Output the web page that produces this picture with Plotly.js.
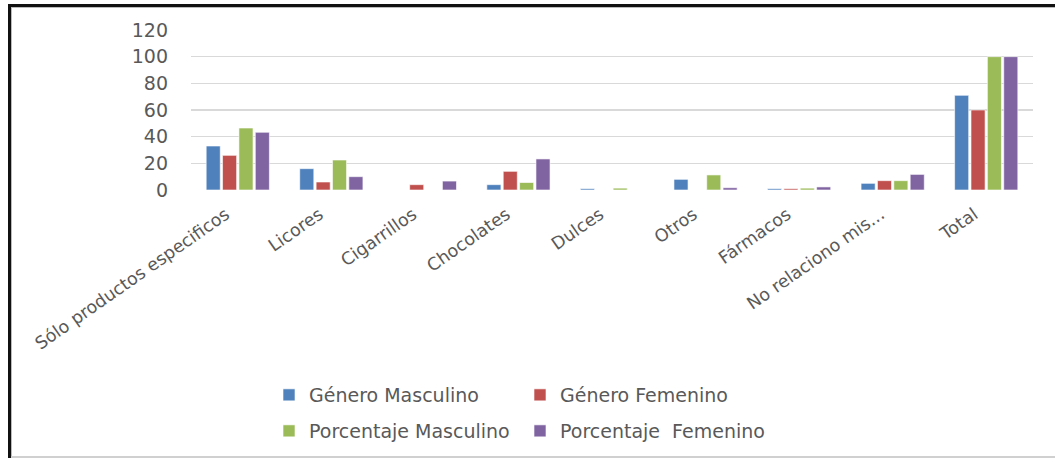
<!DOCTYPE html>
<html>
<head>
<meta charset="utf-8">
<script src="https://cdn.plot.ly/plotly-3.0.1.min.js"></script>
<style>
  html, body { margin: 0; padding: 0; background: #fff; }
  #wrap { position: relative; width: 1055px; height: 458px; overflow: hidden; }
  #chart { position: absolute; left: 0; top: 0; width: 1055px; height: 458px; }
  .frame { position: absolute; pointer-events: none; }
</style>
</head>
<body>
<div id="wrap">
  <div id="chart"></div>
  <div class="frame" style="left:8px; top:4px; width:1047px; height:3px; background:#111;"></div>
  <div class="frame" style="left:8px; top:4px; width:3px; height:454px; background:#111;"></div>
  <div class="frame" style="left:11px; top:7px; width:1044px; height:1px; background:#bbb;"></div>
  <div class="frame" style="left:11px; top:7px; width:1px; height:451px; background:#bbb;"></div>
  <div class="frame" style="left:11px; top:456px; width:1044px; height:2px; background:#d0d0d0;"></div>
</div>
<script>
const categories = ["Sólo productos especificos", "Licores", "Cigarrillos", "Chocolates", "Dulces", "Otros", "Fármacos", "No relaciono mis...", "Total"];
const generoMasculino     = [33, 16, 0, 4, 1, 8, 1, 5, 71];
const generoFemenino      = [26, 6, 4, 14, 0, 0, 1, 7, 60];
const porcentajeMasculino = [46.5, 22.5, 0, 5.6, 1.4, 11.3, 1.4, 7, 100];
const porcentajeFemenino  = [43.3, 10, 6.7, 23.3, 0, 1.7, 2.3, 11.7, 100];
const seriesNames = ["Género Masculino", "Género Femenino", "Porcentaje Masculino", "Porcentaje  Femenino"];
const yTicks = [0, 20, 40, 60, 80, 100, 120];

const colors = ["#4F81BD", "#C0504D", "#9BBB59", "#8064A2"];
const values = [generoMasculino, generoFemenino, porcentajeMasculino, porcentajeFemenino];
const legends = ["legend", "legend", "legend2", "legend2"];
const FONT = "DejaVu Sans, sans-serif";
const GREY = "#595959";

const traces = values.map((v, i) => ({
  type: "bar",
  x: categories,
  y: v,
  name: seriesNames[i],
  legend: legends[i],
  marker: { color: colors[i], line: { color: "rgba(255,255,255,0.6)", width: 1 } },
  hoverinfo: "x+y+name"
}));

const legendCommon = {
  orientation: "h",
  xref: "container", yref: "container",
  x: 269 / 1055, xanchor: "left",
  yanchor: "middle",
  font: { family: FONT, size: 19, color: GREY },
  entrywidth: 206, entrywidthmode: "pixels",
  itemwidth: 30,
  bgcolor: "rgba(0,0,0,0)",
  traceorder: "normal"
};

const layout = {
  width: 1055, height: 458,
  margin: { l: 191, r: 22, t: 30, b: 268 },
  paper_bgcolor: "#fff", plot_bgcolor: "#fff",
  barmode: "group",
  bargap: 0.3,
  bargroupgap: 0.14,
  showlegend: true,
  legend: Object.assign({}, legendCommon, { y: 1 - 395 / 458 }),
  legend2: Object.assign({}, legendCommon, { y: 1 - 431 / 458 }),
  xaxis: {
    type: "category",
    tickangle: -35,
    tickfont: { family: FONT, size: 17.5, color: GREY },
    showgrid: false, zeroline: false, showline: false,
    ticks: "",
    ticklabelstandoff: 10,
    ticklabelshift: -12,
    automargin: false
  },
  yaxis: {
    range: [0, 120],
    tickvals: yTicks,
    ticktext: yTicks.map(String),
    tickfont: { family: FONT, size: 19, color: GREY },
    showgrid: true, gridcolor: "#d9d9d9", gridwidth: 1.6,
    zeroline: false, showline: false,
    ticks: "",
    ticklabelstandoff: 22,
    automargin: false
  }
};

Plotly.newPlot("chart", traces, layout, { displayModeBar: false, staticPlot: true });
</script>
</body>
</html>
